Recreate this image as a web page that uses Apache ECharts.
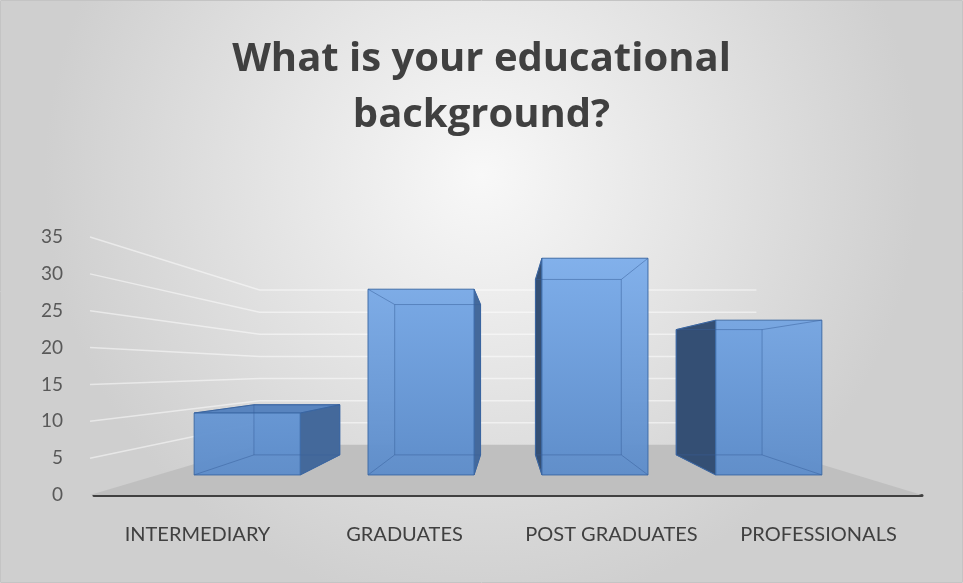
<!DOCTYPE html>
<html>
<head>
<meta charset="utf-8">
<title>What is your educational background?</title>
<script src="https://cdn.jsdelivr.net/npm/echarts@6/dist/echarts.min.js"></script>
<style>
  html, body { margin: 0; padding: 0; }
  #chart { width: 963px; height: 583px; }
</style>
</head>
<body>
<div id="chart"></div>
<script>
// Survey answers: number of respondents per education level
const categories = ['INTERMEDIARY', 'GRADUATES', 'POST GRADUATES', 'PROFESSIONALS'];
const respondents = [10, 30, 35, 25];
const yTicks = [0, 5, 10, 15, 20, 25, 30, 35];

// Perspective set-up for the pseudo-3D look
const EYE_LEVEL = 17;      // value at which the horizon (vanishing point) sits
const DEPTH_WALL = 0.6;    // scale of the back wall relative to the front plane
const DEPTH_FRONT = 0.84;  // scale of a bar's front face
const DEPTH_BACK = 0.68;   // scale of a bar's back face
const BAR_RATIO = 0.61;    // bar width as a share of the category band

const chart = echarts.init(document.getElementById('chart'), null, { renderer: 'canvas' });

function projector(params, api) {
  const cs = params.coordSys;
  const vp = [cs.x + cs.width / 2, api.coord([0, EYE_LEVEL])[1]];
  return function (x, y, s) {
    return [vp[0] + (x - vp[0]) * s, vp[1] + (y - vp[1]) * s];
  };
}

// Floor, side wall and back wall with their gridlines
function renderFrame(params, api) {
  const cs = params.coordSys;
  const P = projector(params, api);
  const x0 = cs.x, x1 = cs.x + cs.width;
  const children = [];
  yTicks.forEach(function (t) {
    if (t === 0) return;
    const y = api.coord([0, t])[1];
    children.push({
      type: 'polyline',
      shape: { points: [[x0 - 4, y], P(x0, y, DEPTH_WALL), P(x1, y, DEPTH_WALL)] },
      style: { stroke: 'rgba(255,255,255,0.5)', lineWidth: 1.5, fill: null }
    });
  });
  const yb = api.coord([0, 0])[1];
  children.push({
    type: 'polygon',
    shape: { points: [[x0 - 4, yb], P(x0, yb, DEPTH_WALL), P(x1, yb, DEPTH_WALL), [x1, yb]] },
    style: { fill: '#bfbfbf' }
  });
  return { type: 'group', children: children };
}

// One translucent box per category
function renderBar(params, api) {
  const P = projector(params, api);
  const i = api.value(0);
  const v = api.value(1);
  const base = api.coord([i, 0]);
  const top = api.coord([i, v]);
  const bw = api.size([1, 0])[0] * BAR_RATIO;
  const xL = base[0] - bw / 2, xR = base[0] + bw / 2;
  const yB = base[1], yT = top[1];
  const cs = params.coordSys;

  const fLB = P(xL, yB, DEPTH_FRONT), fRB = P(xR, yB, DEPTH_FRONT);
  const fRT = P(xR, yT, DEPTH_FRONT), fLT = P(xL, yT, DEPTH_FRONT);
  const bLB = P(xL, yB, DEPTH_BACK), bRB = P(xR, yB, DEPTH_BACK);
  const bRT = P(xR, yT, DEPTH_BACK), bLT = P(xL, yT, DEPTH_BACK);

  const frontFill = new echarts.graphic.LinearGradient(
    0, cs.y, 0, api.coord([0, 0])[1],
    [{ offset: 0, color: '#82b2ee' }, { offset: 1, color: '#5b8ac7' }], true);
  const outline = '#3d6aa5';
  const inner = 'rgba(55,95,155,0.5)';

  const children = [];
  // back face
  children.push({
    type: 'polygon', shape: { points: [bLB, bRB, bRT, bLT] },
    style: { fill: 'rgba(90,137,198,0.9)' }
  });
  const rightVisible = bRB[0] > fRB[0];
  const leftVisible = bLB[0] < fLB[0];
  const topVisible = bLT[1] < fLT[1];
  if (rightVisible) {
    children.push({
      type: 'polygon', shape: { points: [fRB, bRB, bRT, fRT] },
      style: { fill: '#44699b', stroke: outline, lineWidth: 1 }
    });
  }
  if (leftVisible) {
    children.push({
      type: 'polygon', shape: { points: [fLB, bLB, bLT, fLT] },
      style: { fill: '#344f74', stroke: outline, lineWidth: 1 }
    });
  }
  if (topVisible) {
    children.push({
      type: 'polygon', shape: { points: [fLT, fRT, bRT, bLT] },
      style: { fill: '#5884bf', stroke: outline, lineWidth: 1 }
    });
  }
  // front face
  children.push({
    type: 'polygon', shape: { points: [fLB, fRB, fRT, fLT] },
    style: { fill: frontFill, opacity: 0.97, stroke: outline, lineWidth: 1 }
  });
  // edges seen through the glass-like front face
  const hidden = [
    [bLB, bRB], [bRB, bRT], [bRT, bLT], [bLT, bLB],
    [fLB, bLB], [fRB, bRB], [fLT, bLT], [fRT, bRT]
  ];
  hidden.forEach(function (seg) {
    children.push({
      type: 'line',
      shape: { x1: seg[0][0], y1: seg[0][1], x2: seg[1][0], y2: seg[1][1] },
      style: { stroke: inner, lineWidth: 1 }
    });
  });
  return { type: 'group', children: children };
}

const option = {
  animation: false,
  graphic: [{
    type: 'rect', z: -10, silent: true,
    shape: { x: 0.5, y: 0.5, width: 962, height: 582 },
    style: {
      fill: new echarts.graphic.RadialGradient(0.5, 0.3, 0.75, [
        { offset: 0, color: '#f8f8f8' },
        { offset: 1, color: '#cfcfcf' }
      ]),
      stroke: '#c4c4c4', lineWidth: 1
    }
  }],
  title: {
    text: 'What is your educational\nbackground?',
    left: 'center',
    top: 27,
    textStyle: {
      fontFamily: '"Open Sans", Lato, sans-serif',
      fontWeight: 'bold',
      fontSize: 40,
      lineHeight: 56,
      color: '#404040'
    }
  },
  grid: { left: 94, right: 41, top: 237, bottom: 88 },
  xAxis: {
    type: 'category',
    data: categories,
    axisTick: { show: false },
    axisLine: { show: true, lineStyle: { color: '#404040', width: 3 } },
    axisLabel: {
      interval: 0,
      hideOverlap: false,
      margin: 30,
      fontFamily: 'Lato, "Open Sans", sans-serif',
      fontSize: 20,
      color: '#404040'
    },
    splitLine: { show: false }
  },
  yAxis: {
    type: 'value',
    min: 0,
    max: 35,
    interval: 5,
    axisLine: { show: false },
    axisTick: { show: false },
    splitLine: { show: false },
    axisLabel: {
      margin: 31,
      fontFamily: 'Lato, "Open Sans", sans-serif',
      fontSize: 19,
      color: '#595959'
    }
  },
  series: [
    {
      type: 'custom',
      name: 'frame',
      z: 1,
      silent: true,
      clip: false,
      renderItem: renderFrame,
      data: [[0, 0]]
    },
    {
      type: 'custom',
      name: 'Respondents',
      z: 2,
      clip: false,
      renderItem: renderBar,
      encode: { x: 0, y: 1 },
      data: respondents.map(function (v, i) { return [i, v]; })
    }
  ]
};

chart.setOption(option);
</script>
</body>
</html>
